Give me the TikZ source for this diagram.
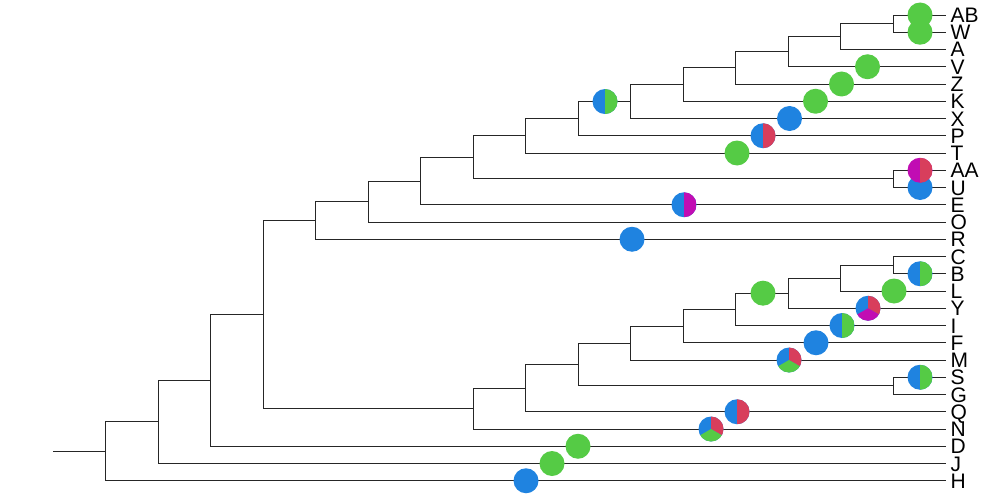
\documentclass[tikz,border=0pt]{standalone}
\usepackage{fontspec}
\setmainfont{Liberation Sans}
\definecolor{sBlue}{HTML}{1F83E0}
\definecolor{sGreen}{HTML}{55CB45}
\definecolor{sRed}{HTML}{D83E5C}
\definecolor{sMag}{HTML}{C10DB3}
\begin{document}
\begin{tikzpicture}[x=1pt, y=1pt,
  edge/.style = {line width=0.9pt, black!85},
  leaf/.style = {anchor=west, inner sep=5pt, text height=15pt, text depth=0pt, font=\fontsize{21}{21}\selectfont},
  dot/.style = {circle, minimum size=25pt, inner sep=0pt, fill=#1},
  half/.style 2 args = {dot=#1, path picture={\fill[#2] (path picture bounding box.north) rectangle (path picture bounding box.south east);}},
  third/.style n args = {3}{dot=#1, path picture={
    \fill[#2] (path picture bounding box.center) -- ++(90:14pt) arc[start angle=90, end angle=-30, radius=14pt] -- cycle;
    \fill[#3] (path picture bounding box.center) -- ++(210:14pt) arc[start angle=210, end angle=330, radius=14pt] -- cycle;}}]
\useasboundingbox (0,0) rectangle (1000,-500);

% leaves
\node[leaf] (AB) at (945.5,-15) {AB};
\node[leaf] (W) at (945.5,-32.25) {W};
\node[leaf] (A) at (945.5,-49.5) {A};
\node[leaf] (V) at (945.5,-66.75) {V};
\node[leaf] (Z) at (945.5,-84) {Z};
\node[leaf] (K) at (945.5,-101.25) {K};
\node[leaf] (X) at (945.5,-118.5) {X};
\node[leaf] (P) at (945.5,-135.75) {P};
\node[leaf] (T) at (945.5,-153) {T};
\node[leaf] (AA) at (945.5,-170.25) {AA};
\node[leaf] (U) at (945.5,-187.5) {U};
\node[leaf] (E) at (945.5,-204.75) {E};
\node[leaf] (O) at (945.5,-222) {O};
\node[leaf] (R) at (945.5,-239.25) {R};
\node[leaf] (C) at (945.5,-256.5) {C};
\node[leaf] (B) at (945.5,-273.75) {B};
\node[leaf] (L) at (945.5,-291) {L};
\node[leaf] (Y) at (945.5,-308.25) {Y};
\node[leaf] (I) at (945.5,-325.5) {I};
\node[leaf] (F) at (945.5,-342.75) {F};
\node[leaf] (M) at (945.5,-360) {M};
\node[leaf] (S) at (945.5,-377.25) {S};
\node[leaf] (G) at (945.5,-394.5) {G};
\node[leaf] (Q) at (945.5,-411.75) {Q};
\node[leaf] (N) at (945.5,-429) {N};
\node[leaf] (D) at (945.5,-446.25) {D};
\node[leaf] (J) at (945.5,-463.5) {J};
\node[leaf] (H) at (945.5,-480.75) {H};

% inner nodes, upper part
\coordinate (u16) at (893,-23.63);
\coordinate (u15) at (840,-36.56);
\coordinate (u14) at (788,-51.66);
\coordinate (u13) at (735,-67.83);
\coordinate (u12) at (683,-84.54);
\coordinate (u11) at (630,-101.52);
\coordinate (u10) at (578,-118.64);
\coordinate (u9) at (525,-135.82);
\coordinate (aa) at (893,-178.88);
\coordinate (u8) at (473,-157.35);
\coordinate (u7) at (420,-181.05);
\coordinate (u6) at (368,-201.52);
\coordinate (u5) at (315,-220.39);

% inner nodes, lower part
\coordinate (cb) at (893,-265.13);
\coordinate (l15) at (840,-278.06);
\coordinate (l14) at (788,-293.16);
\coordinate (l13) at (735,-309.33);
\coordinate (l12) at (683,-326.04);
\coordinate (l11) at (630,-343.02);
\coordinate (sg) at (893,-385.88);
\coordinate (l10) at (578,-364.45);
\coordinate (l9) at (525,-388.1);
\coordinate (l8) at (473,-408.55);
\coordinate (r4) at (263,-314.47);
\coordinate (r3) at (210,-380.36);
\coordinate (r2) at (158,-421.93);
\coordinate (r1) at (105,-451.34);
\coordinate (r0) at (53,-451.34);

\draw[edge] (u16) |- (AB);
\draw[edge] (u16) |- (W);
\draw[edge] (u15) |- (u16);
\draw[edge] (u15) |- (A);
\draw[edge] (u14) |- (u15);
\draw[edge] (u14) |- (V);
\draw[edge] (u13) |- (u14);
\draw[edge] (u13) |- (Z);
\draw[edge] (u12) |- (u13);
\draw[edge] (u12) |- (K);
\draw[edge] (u11) |- (u12);
\draw[edge] (u11) |- (X);
\draw[edge] (u10) |- (u11);
\draw[edge] (u10) |- (P);
\draw[edge] (u9) |- (u10);
\draw[edge] (u9) |- (T);
\draw[edge] (aa) |- (AA);
\draw[edge] (aa) |- (U);
\draw[edge] (u8) |- (u9);
\draw[edge] (u8) |- (aa);
\draw[edge] (u7) |- (u8);
\draw[edge] (u7) |- (E);
\draw[edge] (u6) |- (u7);
\draw[edge] (u6) |- (O);
\draw[edge] (u5) |- (u6);
\draw[edge] (u5) |- (R);

\draw[edge] (cb) |- (C);
\draw[edge] (cb) |- (B);
\draw[edge] (l15) |- (cb);
\draw[edge] (l15) |- (L);
\draw[edge] (l14) |- (l15);
\draw[edge] (l14) |- (Y);
\draw[edge] (l13) |- (l14);
\draw[edge] (l13) |- (I);
\draw[edge] (l12) |- (l13);
\draw[edge] (l12) |- (F);
\draw[edge] (l11) |- (l12);
\draw[edge] (l11) |- (M);
\draw[edge] (sg) |- (S);
\draw[edge] (sg) |- (G);
\draw[edge] (l10) |- (l11);
\draw[edge] (l10) |- (sg);
\draw[edge] (l9) |- (l10);
\draw[edge] (l9) |- (Q);
\draw[edge] (l8) |- (l9);
\draw[edge] (l8) |- (N);

\draw[edge] (r4) |- (u5);
\draw[edge] (r4) |- (l8);
\draw[edge] (r3) |- (r4);
\draw[edge] (r3) |- (D);
\draw[edge] (r2) |- (r3);
\draw[edge] (r2) |- (J);
\draw[edge] (r1) |- (r2);
\draw[edge] (r1) |- (H);
\draw[edge] (r0) -- (r1);

% pies
\node[dot=sGreen] (pAB) at (920,-15) {};
\node[dot=sGreen] (pW) at (920,-32.25) {};
\node[dot=sGreen] (pV) at (867.5,-66.75) {};
\node[dot=sGreen] (pZ) at (841.5,-84) {};
\node[dot=sGreen] (pK) at (815.5,-101.25) {};
\node[dot=sBlue] (pX) at (789.5,-118.5) {};
\node[half={sBlue}{sRed}] (pP) at (763,-135.75) {};
\node[dot=sGreen] (pT) at (737,-153) {};
\node[dot=sBlue] (pU) at (920,-187.5) {};
\node[half={sMag}{sRed}] (pAA) at (920,-170.25) {};
\node[half={sBlue}{sMag}] (pE) at (684,-204.75) {};
\node[dot=sBlue] (pR) at (632,-239.25) {};
\node[half={sBlue}{sGreen}] (pu11) at (605,-101.52) {};

\node[half={sBlue}{sGreen}] (pB) at (920,-273.75) {};
\node[dot=sGreen] (pL) at (894,-291) {};
\node[third={sBlue}{sRed}{sMag}] (pY) at (868,-308.25) {};
\node[half={sBlue}{sGreen}] (pI) at (842,-325.5) {};
\node[dot=sBlue] (pF) at (816,-342.75) {};
\node[third={sBlue}{sRed}{sGreen}] (pM) at (789,-360) {};
\node[dot=sGreen] (pl13) at (763,-293.16) {};
\node[half={sBlue}{sGreen}] (pS) at (920,-377.25) {};
\node[half={sBlue}{sRed}] (pQ) at (737,-411.75) {};
\node[third={sBlue}{sRed}{sGreen}] (pN) at (711,-429) {};
\node[dot=sGreen] (pD) at (578,-446.25) {};
\node[dot=sGreen] (pJ) at (552,-463.5) {};
\node[dot=sBlue] (pH) at (526,-480.75) {};

\end{tikzpicture}
\end{document}
